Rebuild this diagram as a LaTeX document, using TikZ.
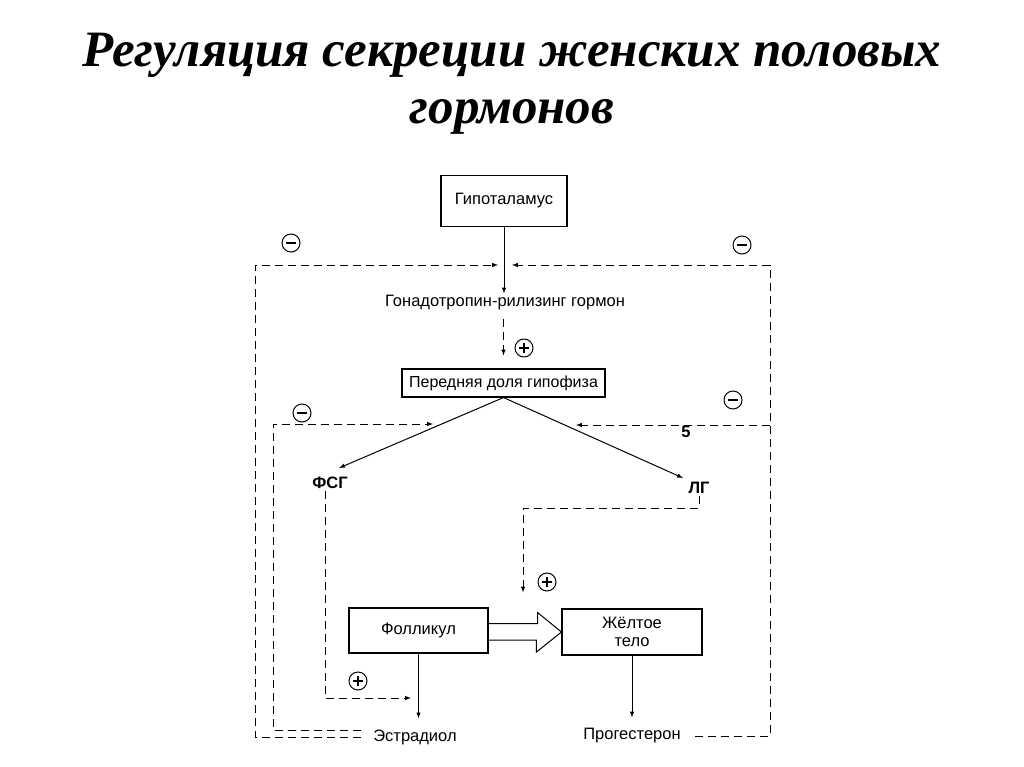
\documentclass[tikz,border=0pt]{standalone}
\usepackage{fontspec}
\setmainfont{Liberation Sans}
\newfontfamily\titlefont{Liberation Serif}
\begin{document}
\begin{tikzpicture}[x=1pt,y=-1pt,
    font=\fontsize{16.5}{19}\selectfont,
    box/.style={draw,line width=1.1pt,inner sep=2pt,align=center},
    sign/.style={draw,circle,line width=1pt,minimum size=18pt,inner sep=0pt},
    negsign/.style={sign,path picture={
        \draw[line width=1.8pt] ([xshift=-5pt]path picture bounding box.center) -- ([xshift=5pt]path picture bounding box.center);}},
    possign/.style={sign,path picture={
        \draw[line width=1.8pt] ([xshift=-5pt]path picture bounding box.center) -- ([xshift=5pt]path picture bounding box.center)
                                ([yshift=-5pt]path picture bounding box.center) -- ([yshift=5pt]path picture bounding box.center);}},
    fb/.style={dash pattern=on 8pt off 5pt,line width=1pt},
    lbl/.style={inner sep=2pt}]

        \useasboundingbox (0,0) rectangle (1024,767);

        % Title
        \node[anchor=base,font=\titlefont\bfseries\itshape\fontsize{51}{55}\selectfont] (title1) at (512,67) {Регуляция секреции женских половых};
        \node[anchor=base,font=\titlefont\bfseries\itshape\fontsize{51}{55}\selectfont] (title2) at (512,124) {гормонов};

        % Boxes and labels
        \node[box,minimum width=126pt,minimum height=51pt] (hyp) at (504,201) {Гипоталамус};
        \node[lbl] (gnrh) at (505,303) {Гонадотропин-рилизинг гормон};
        \node[box,minimum width=203pt,minimum height=28pt,font=\fontsize{16}{19}\selectfont] (ant) at (503.5,383) {Передняя доля гипофиза};
        \node[lbl,font=\fontsize{16.5}{19}\selectfont\bfseries] (fsh) at (330,483) {ФСГ};
        \node[lbl,font=\fontsize{16.5}{19}\selectfont\bfseries] (lh) at (699,488) {ЛГ};
        \node[box,minimum width=139pt,minimum height=45pt] (foll) at (418.5,630.5) {Фолликул};
        \node[box,minimum width=140pt,minimum height=46pt,font=\fontsize{16.5}{18}\selectfont] (cl) at (632,632) {Жёлтое\\тело};
        \node[lbl] (estr) at (415,737) {Эстрадиол};
        \node[lbl] (prog) at (632,736) {Прогестерон};
        \node[lbl,font=\fontsize{16.5}{19}\selectfont\bfseries] (five) at (686,432) {5};

        % Signs
        \node[negsign] (neg1) at (291,243) {};
        \node[negsign] (neg2) at (742,245) {};
        \node[negsign] (neg3) at (302,413) {};
        \node[negsign] (neg4) at (733,400) {};
        \node[possign] (pos1) at (524,348) {};
        \node[possign] (pos2) at (547,582) {};
        \node[possign] (pos3) at (358,681) {};

        % Corners and ends of the lines
        \coordinate (ltop) at (255,265);
        \coordinate (rtop) at (770,265);
        \coordinate (lmid) at (273,424);
        \coordinate (ltip) at (433,424);
        \coordinate (rmid) at (770,425);
        \coordinate (rtip) at (576,425);
        \coordinate (fshtip) at (339,468);
        \coordinate (lhtip) at (683,478);
        \coordinate (lhbend) at (523,508);
        \coordinate (fshend) at (411,698);

        % Main path
        \draw[-latex,line width=1pt] (hyp.south) -- (hyp.south |- gnrh.north);
        \draw[fb,-latex,shorten <=6pt,shorten >=13pt] (gnrh.south -| ant.north) -- (ant.north);
        \draw[-latex,line width=1pt] (ant.south) -- (fshtip);
        \draw[-latex,line width=1pt] (ant.south) -- (lhtip);
        \draw[-latex,line width=1pt] (foll.south) -- ([yshift=9pt]foll.south |- estr.north);
        \draw[-latex,line width=1pt] (cl.south) -- ([yshift=9pt]cl.south |- prog.north);
        \draw[line width=1pt] (foll.east) ++(0,-7) -- ++(49,0) -- ++(0,-11) -- (cl.west) -- ++(-25,20) -- ++(0,-12) -- ++(-49,0);

        % Stimulating lines
        \draw[fb,-latex] ([xshift=-5pt]fsh.south) |- (fshend);
        \draw[fb,-latex,shorten >=15pt] (lh.south) |- (lhbend) -- (lhbend |- foll.north);

        % Feedback lines
        \draw[fb,-latex,shorten <=10pt,shorten >=6pt] (estr.west) -| (ltop) -- (hyp.south |- ltop);
        \draw[fb,-latex,shorten <=10pt] ([yshift=7pt]estr.west) -| (lmid) -- (ltip);
        \draw[fb,-latex,shorten <=12pt,shorten >=8pt] (prog.east) -| (rtop) -- (hyp.south |- rtop);
        \draw[fb,-latex] (rmid) -- (rtip);

    \end{tikzpicture}
\end{document}
